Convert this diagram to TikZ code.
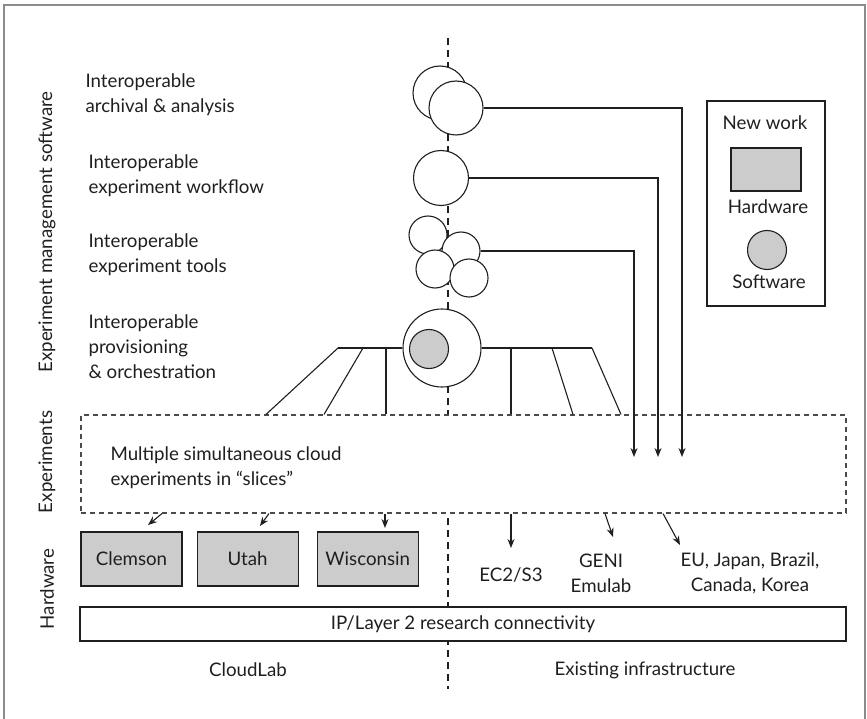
\documentclass[tikz,border=0pt]{standalone}
\usepackage{fontspec}
\setmainfont{Lato}
\usepackage{xcolor}
\usepackage{tikz}
\usetikzlibrary{positioning,%
  arrows.meta,%
  shapes.geometric}

\definecolor{hwgray}{gray}{0.8}
\definecolor{inkgray}{gray}{0.12}

\begin{document}
\begin{tikzpicture}
                    [x=1pt, y=-1pt,
                    every node/.style={font=\fontsize{18.7}{25}\selectfont, text=inkgray},
                    txt/.style={align=left, anchor=west, inner sep=0pt},
                    hw/.style={rectangle,
                        draw=inkgray, fill=hwgray,
                        minimum width=101pt, minimum height=54pt, inner sep=0pt},
                    sw/.style={circle,
                        draw=inkgray, fill=white, inner sep=0pt},
                    core/.style={circle,
                        draw=inkgray, fill=hwgray,
                        minimum size=39pt, inner sep=0pt},
                    layer/.style={rotate=90, inner sep=0pt},
                    slicebox/.style={rectangle,
                        draw=inkgray!80, fill=white,
                        dash pattern=on 5pt off 4pt, inner sep=0pt},
                    spine/.style={line width=2.6pt, dash pattern=on 7pt off 5pt},
                    arr/.style={-{Stealth[length=9pt,width=7pt]}},
                    draw=inkgray, line width=1.1pt]

                    \useasboundingbox (0,0) rectangle (867,719);
                    \draw[black!45, line width=1.3pt] (4,740) |- (865,5) -- (865,740);

                    % dividing line
                    \draw[spine] (448,38) -- (448,689);

                    % layer labels
                    \node[layer] (emsw) at (47,232) {Experiment management software};
                    \node[layer] (exps) at (47,462) {Experiments};
                    \node[layer] (hwl) at (47,589) {Hardware};

                    \node[txt] (archtxt) at (85,95)
                        {Interoperable\\archival \& analysis};
                    \node[txt] (flowtxt) at (88,176)
                        {Interoperable\\experiment workflow};
                    \node[txt] (tooltxt) at (88,255)
                        {Interoperable\\experiment tools};
                    \node[txt] (provtxt) at (88,347)
                        {Interoperable\\provisioning\\\& orchestration};

                    % software
                    \node[sw, minimum size=54pt] (arch1) at (440,93) {};
                    \node[sw, minimum size=54pt] (arch2) at (456,108) {};
                    \node[sw, minimum size=55pt] (flow) at (441,178) {};
                    \node[sw, minimum size=38pt] (tool1) at (428,235) {};
                    \node[sw, minimum size=38pt] (tool2) at (461,251) {};
                    \node[sw, minimum size=38pt] (tool3) at (435,269) {};
                    \node[sw, minimum size=38pt] (tool4) at (469,278) {};
                    \node[sw, minimum size=78pt] (prov) at (442,348) {};
                    \node[core] (provcore) at (429,349) {};

                    % experiments
                    \node[slicebox, minimum width=765pt, minimum height=98pt]
                        (expt) at (463.5,464) {};
                    \node[txt, text depth=0pt] (slices) at (110,466)
                        {Multiple simultaneous cloud\\experiments in “slices”};

                    \draw (338,348) -- (prov.west) (prov.east) -- (592,348);
                    \foreach \a/\b in {338/266, 363/324, 386/386, 511/511, 552/573, 592/621}
                        \draw (\a,348) -- (\b,0 |- expt.north);

                    \coordinate (archend) at (682,457);
                    \coordinate (flowend) at (658,457);
                    \coordinate (toolend) at (634,457);
                    \draw[arr] (arch2.east) -| (archend);
                    \draw[arr] (flow.east) -| (flowend);
                    \draw[arr] (tool2.east) -| (toolend);

                    % hardware
                    \node[hw] (clemson) at (131.5,559) {Clemson};
                    \node[hw, right=14pt of clemson] (utah) {Utah};
                    \node[hw, right=18pt of utah] (wisc) {Wisconsin};

                    \draw[arr] (162,0 |- expt.south) -- (148,525);
                    \draw[arr] (269,0 |- expt.south) -- (260,526);
                    \draw[arr] (385,0 |- expt.south) -- (385,528);

                    \draw[arr] (511,0 |- expt.south) -- (511,548);
                    \draw[arr] (605,0 |- expt.south) -- (613,537);
                    \draw[arr] (663,0 |- expt.south) -- (680,545);

                    \node (ec2) at (511,575) {EC2/S3};
                    \node[align=center] (geni) at (601,573) {GENI\\Emulab};
                    \node[align=center] (intl) at (750,573)
                        {EU, Japan, Brazil,\\Canada, Korea};

                    \node[draw=inkgray, fill=white, inner sep=0pt,
                        minimum width=766pt, minimum height=34pt]
                        (ipnet) at (463,624) {IP/Layer 2 research connectivity};

                    \node (cloudlab) at (248,670) {CloudLab};
                    \node (existing) at (645,670) {Existing infrastructure};

                    % legend
                    \node[draw=inkgray, minimum width=118pt, minimum height=205pt]
                        (legend) at (766,203.5) {};
                    \node (newwork) at (765,123) {New work};
                    \node[hw, minimum width=70pt, minimum height=43pt]
                        (hwkey) at (766,169.5) {};
                    \node (hwtxt) at (768,207) {Hardware};
                    \node[core] (swkey) at (767,250) {};
                    \node (swtxt) at (769,282) {Software};
                \end{tikzpicture}
\end{document}
